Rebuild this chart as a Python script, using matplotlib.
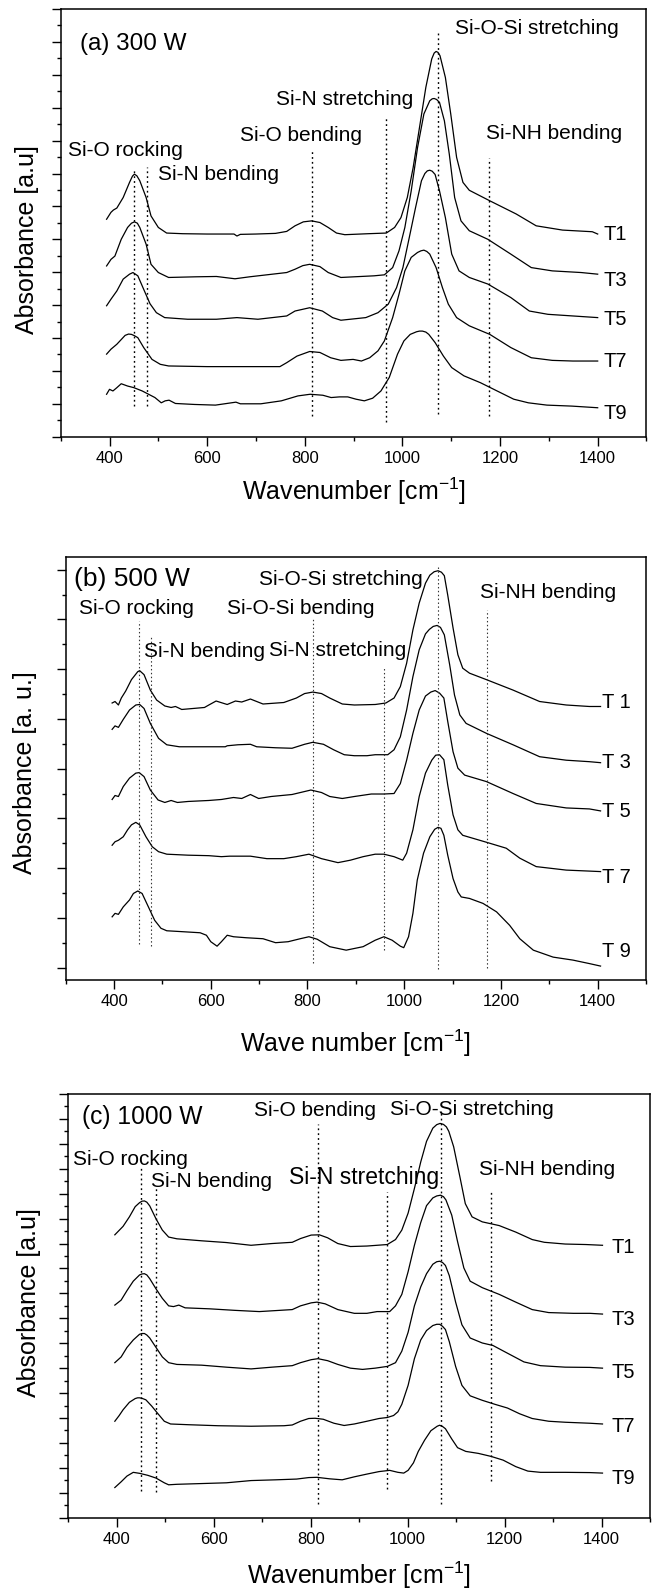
import matplotlib
matplotlib.use("Agg")
import matplotlib.pyplot as plt
from matplotlib.ticker import MultipleLocator

plt.rcParams['font.family'] = ['Liberation Sans', 'DejaVu Sans']
plt.rcParams['mathtext.fontset'] = 'custom'
plt.rcParams['mathtext.rm'] = 'Liberation Sans'
plt.rcParams['mathtext.it'] = 'Liberation Sans:italic'
plt.rcParams['mathtext.bf'] = 'Liberation Sans:bold'

# ---------------- Panel (a) 300 W ----------------
a_T1_x = [394, 403, 408, 415, 428, 441, 447, 451, 456, 462, 475, 485, 500, 517, 550, 600, 655, 661, 668, 700, 740, 763, 780, 797, 814, 831, 848, 865, 882, 930, 967, 984, 997, 1010, 1022, 1035, 1048, 1060, 1065, 1069, 1073, 1077, 1088, 1099, 1111, 1124, 1137, 1179, 1233, 1274, 1328, 1389, 1400]
a_T1_y = [6.61, 6.82, 6.89, 6.95, 7.27, 7.73, 7.92, 7.98, 7.93, 7.78, 7.27, 6.71, 6.36, 6.19, 6.17, 6.16, 6.16, 6.10, 6.15, 6.16, 6.18, 6.24, 6.41, 6.53, 6.56, 6.51, 6.36, 6.19, 6.14, 6.17, 6.19, 6.36, 6.66, 7.27, 8.18, 9.40, 10.62, 11.48, 11.66, 11.71, 11.68, 11.58, 10.92, 9.81, 8.49, 7.73, 7.49, 7.17, 6.77, 6.41, 6.28, 6.23, 6.16]

a_T3_x = [394, 403, 411, 424, 437, 445, 451, 457, 462, 475, 485, 500, 521, 577, 619, 657, 687, 763, 780, 796, 810, 831, 848, 874, 942, 963, 980, 993, 1005, 1018, 1031, 1044, 1056, 1061, 1065, 1070, 1076, 1086, 1096, 1107, 1120, 1137, 1175, 1222, 1264, 1307, 1366, 1400]
a_T3_y = [5.19, 5.39, 5.49, 6.00, 6.36, 6.49, 6.53, 6.49, 6.36, 5.85, 5.24, 4.99, 4.84, 4.86, 4.87, 4.80, 4.86, 4.99, 5.09, 5.20, 5.24, 5.17, 4.99, 4.84, 4.89, 4.92, 5.14, 5.65, 6.36, 7.47, 8.79, 9.81, 10.21, 10.27, 10.28, 10.25, 10.16, 9.60, 8.59, 7.27, 6.56, 6.26, 6.00, 5.55, 5.14, 5.04, 4.99, 4.94]

a_T5_x = [394, 403, 415, 428, 441, 448, 458, 470, 483, 496, 513, 560, 619, 661, 704, 763, 780, 810, 836, 857, 874, 925, 950, 971, 988, 1001, 1014, 1027, 1039, 1046, 1051, 1056, 1061, 1067, 1076, 1088, 1101, 1116, 1137, 1175, 1222, 1260, 1298, 1349, 1400]
a_T5_y = [3.98, 4.18, 4.43, 4.79, 4.94, 4.99, 4.89, 4.48, 4.04, 3.77, 3.62, 3.57, 3.57, 3.62, 3.57, 3.67, 3.82, 3.92, 3.82, 3.62, 3.54, 3.62, 3.77, 4.03, 4.53, 5.14, 6.05, 6.97, 7.78, 8.00, 8.08, 8.10, 8.07, 7.97, 7.47, 6.66, 5.55, 5.04, 4.84, 4.64, 4.23, 3.82, 3.72, 3.67, 3.62]

a_T7_x = [394, 403, 415, 432, 439, 445, 451, 458, 470, 487, 504, 521, 600, 680, 749, 763, 784, 810, 831, 853, 874, 899, 916, 933, 950, 963, 980, 993, 1005, 1018, 1031, 1038, 1044, 1050, 1056, 1069, 1082, 1094, 1111, 1137, 1179, 1222, 1264, 1307, 1349, 1400]
a_T7_y = [2.51, 2.66, 2.81, 3.08, 3.12, 3.11, 3.07, 3.01, 2.71, 2.35, 2.20, 2.15, 2.13, 2.13, 2.13, 2.25, 2.45, 2.59, 2.56, 2.40, 2.32, 2.35, 2.30, 2.40, 2.61, 2.91, 3.62, 4.33, 5.04, 5.45, 5.60, 5.65, 5.67, 5.63, 5.55, 5.14, 4.53, 4.03, 3.62, 3.37, 3.11, 2.71, 2.40, 2.32, 2.30, 2.30]

a_T9_x = [394, 400, 407, 415, 424, 437, 450, 467, 480, 493, 506, 514, 522, 535, 574, 617, 659, 668, 710, 752, 786, 811, 837, 854, 871, 888, 905, 922, 939, 956, 973, 990, 1003, 1016, 1029, 1035, 1041, 1048, 1054, 1067, 1084, 1101, 1126, 1160, 1194, 1228, 1258, 1296, 1347, 1400]
a_T9_y = [1.29, 1.44, 1.39, 1.49, 1.61, 1.54, 1.49, 1.39, 1.29, 1.19, 1.03, 1.09, 1.11, 1.01, 0.98, 0.96, 1.05, 1.00, 1.00, 1.09, 1.24, 1.29, 1.26, 1.19, 1.21, 1.21, 1.14, 1.09, 1.17, 1.39, 1.80, 2.51, 2.91, 3.11, 3.19, 3.21, 3.21, 3.18, 3.11, 2.86, 2.45, 2.10, 1.85, 1.64, 1.39, 1.14, 1.03, 0.96, 0.93, 0.88]

a_vline_x = [451, 476, 815, 966, 1072, 1177]
a_vline_lo = [0.93, 0.93, 0.63, 0.46, 0.68, 0.63]
a_vline_hi = [8.14, 8.20, 8.69, 9.69, 12.27, 8.48]
a_band_text = ["Si-O rocking", "Si-N bending", "Si-O bending", "Si-N stretching", "Si-O-Si stretching", "Si-NH bending"]
a_band_x = [315, 500, 668, 742, 1107, 1172]
a_band_y = [8.69, 7.96, 9.17, 10.26, 12.41, 9.23]
a_curve_labels = ["T1", "T3", "T5", "T7", "T9"]
a_curve_label_y = [6.16, 4.76, 3.55, 2.28, 0.72]

# ---------------- Panel (b) 500 W ----------------
b_T1_x = [396, 402, 409, 415, 424, 436, 449, 453, 462, 475, 488, 505, 518, 527, 540, 587, 596, 611, 634, 651, 664, 682, 708, 751, 777, 794, 811, 829, 846, 872, 897, 940, 962, 979, 992, 1005, 1018, 1031, 1044, 1053, 1062, 1070, 1077, 1083, 1090, 1101, 1111, 1121, 1135, 1170, 1225, 1280, 1335, 1383, 1406]
b_T1_y = [5.32, 5.35, 5.28, 5.42, 5.56, 5.79, 5.95, 5.97, 5.89, 5.58, 5.38, 5.26, 5.23, 5.25, 5.19, 5.23, 5.28, 5.36, 5.29, 5.36, 5.34, 5.40, 5.30, 5.33, 5.42, 5.51, 5.54, 5.51, 5.42, 5.30, 5.28, 5.29, 5.32, 5.42, 5.65, 6.12, 6.79, 7.33, 7.73, 7.89, 7.96, 7.98, 7.95, 7.88, 7.49, 6.83, 6.29, 6.02, 5.92, 5.79, 5.58, 5.35, 5.28, 5.25, 5.25]

b_T3_x = [396, 402, 409, 419, 432, 445, 453, 462, 475, 492, 509, 535, 595, 630, 634, 656, 682, 695, 734, 768, 794, 811, 833, 854, 876, 897, 923, 940, 966, 979, 992, 1005, 1018, 1031, 1044, 1052, 1060, 1068, 1075, 1083, 1094, 1104, 1115, 1128, 1170, 1225, 1280, 1335, 1383, 1406]
b_T3_y = [4.79, 4.86, 4.83, 4.99, 5.18, 5.28, 5.29, 5.21, 4.91, 4.61, 4.48, 4.44, 4.44, 4.44, 4.46, 4.48, 4.49, 4.44, 4.42, 4.41, 4.49, 4.53, 4.49, 4.38, 4.28, 4.26, 4.26, 4.28, 4.28, 4.38, 4.64, 5.18, 5.85, 6.39, 6.71, 6.80, 6.86, 6.88, 6.84, 6.69, 6.09, 5.48, 5.08, 4.91, 4.71, 4.48, 4.24, 4.17, 4.14, 4.12]

b_T5_x = [396, 402, 409, 419, 432, 445, 452, 462, 475, 491, 505, 518, 531, 553, 596, 622, 647, 664, 682, 699, 725, 768, 794, 807, 829, 846, 872, 897, 932, 958, 979, 992, 1005, 1018, 1031, 1044, 1055, 1064, 1073, 1082, 1090, 1101, 1111, 1125, 1170, 1225, 1273, 1335, 1383, 1406]
b_T5_y = [3.38, 3.46, 3.44, 3.64, 3.81, 3.91, 3.92, 3.84, 3.57, 3.37, 3.32, 3.36, 3.32, 3.34, 3.36, 3.38, 3.42, 3.40, 3.48, 3.40, 3.44, 3.48, 3.54, 3.57, 3.52, 3.44, 3.40, 3.44, 3.49, 3.49, 3.50, 3.70, 4.17, 4.71, 5.18, 5.46, 5.54, 5.57, 5.52, 5.42, 4.95, 4.34, 4.01, 3.87, 3.74, 3.50, 3.30, 3.21, 3.19, 3.15]

b_T7_x = [396, 402, 409, 419, 428, 436, 445, 453, 466, 479, 492, 509, 553, 596, 622, 639, 682, 716, 751, 777, 803, 829, 863, 889, 915, 940, 958, 979, 997, 1005, 1018, 1031, 1044, 1057, 1065, 1073, 1082, 1090, 1101, 1111, 1121, 1170, 1211, 1239, 1273, 1335, 1383, 1406]
b_T7_y = [2.46, 2.53, 2.56, 2.63, 2.77, 2.87, 2.92, 2.87, 2.63, 2.43, 2.33, 2.28, 2.26, 2.25, 2.23, 2.24, 2.24, 2.19, 2.19, 2.23, 2.28, 2.19, 2.11, 2.16, 2.23, 2.28, 2.28, 2.23, 2.16, 2.30, 2.77, 3.44, 3.91, 4.17, 4.27, 4.28, 4.18, 3.67, 3.07, 2.77, 2.66, 2.52, 2.40, 2.20, 2.03, 1.96, 1.94, 1.93]

b_T9_x = [396, 402, 409, 419, 432, 440, 449, 458, 471, 484, 497, 509, 544, 578, 591, 600, 613, 622, 634, 647, 673, 708, 734, 760, 785, 803, 820, 846, 880, 915, 940, 958, 975, 992, 999, 1009, 1018, 1027, 1040, 1053, 1063, 1070, 1076, 1082, 1090, 1101, 1111, 1118, 1135, 1163, 1191, 1218, 1239, 1267, 1308, 1349, 1383, 1406]
b_T9_y = [1.02, 1.09, 1.07, 1.22, 1.36, 1.49, 1.54, 1.49, 1.22, 0.95, 0.79, 0.74, 0.72, 0.70, 0.65, 0.52, 0.43, 0.52, 0.65, 0.62, 0.60, 0.58, 0.50, 0.52, 0.58, 0.62, 0.57, 0.42, 0.35, 0.42, 0.55, 0.62, 0.55, 0.43, 0.40, 0.62, 1.09, 1.76, 2.30, 2.63, 2.78, 2.82, 2.80, 2.66, 2.26, 1.79, 1.52, 1.42, 1.39, 1.29, 1.12, 0.85, 0.58, 0.35, 0.21, 0.15, 0.08, 0.03]

b_vline_x = [451, 477, 811, 958, 1070, 1172]
b_vline_lo = [0.48, 0.43, 0.09, 0.35, -0.02, 0.00]
b_vline_hi = [6.96, 6.66, 7.03, 6.02, 8.05, 7.20]
b_band_text = ["Si-O rocking", "Si-O-Si bending", "Si-O-Si stretching", "Si-NH bending", "Si-N bending", "Si-N stretching"]
b_band_x = [327, 634, 699, 1156, 462, 721]
b_band_y = [7.23, 7.23, 7.81, 7.54, 6.36, 6.38]
b_curve_labels = ["T 1", "T 3", "T 5", "T 7", "T 9"]
b_curve_label_y = [5.33, 4.12, 3.13, 1.81, 0.32]

# ---------------- Panel (c) 1000 W ----------------
c_T1_x = [396, 405, 413, 426, 438, 447, 452, 457, 462, 468, 481, 494, 507, 524, 575, 626, 677, 720, 762, 779, 801, 818, 835, 856, 882, 916, 958, 975, 988, 1001, 1014, 1027, 1039, 1052, 1060, 1067, 1074, 1080, 1085, 1095, 1108, 1119, 1133, 1154, 1189, 1223, 1257, 1282, 1325, 1368, 1402]
c_T1_y = [11.35, 11.53, 11.69, 12.07, 12.48, 12.64, 12.70, 12.71, 12.66, 12.51, 11.99, 11.54, 11.26, 11.19, 11.11, 11.04, 10.93, 11.00, 11.05, 11.20, 11.34, 11.35, 11.23, 11.00, 10.88, 10.90, 10.96, 11.16, 11.54, 12.22, 13.21, 14.27, 15.10, 15.63, 15.77, 15.82, 15.78, 15.68, 15.50, 14.88, 13.66, 12.60, 12.07, 11.87, 11.72, 11.46, 11.16, 11.05, 10.98, 10.96, 10.93]

c_T3_x = [396, 409, 421, 434, 447, 452, 457, 462, 468, 481, 494, 507, 517, 528, 541, 592, 643, 694, 762, 779, 801, 813, 830, 856, 890, 916, 937, 963, 975, 988, 1001, 1014, 1027, 1039, 1052, 1060, 1068, 1074, 1079, 1091, 1103, 1116, 1129, 1154, 1189, 1223, 1257, 1291, 1342, 1376, 1402]
c_T3_y = [8.53, 8.73, 9.11, 9.49, 9.74, 9.78, 9.79, 9.74, 9.59, 9.18, 8.80, 8.50, 8.47, 8.53, 8.42, 8.38, 8.32, 8.27, 8.35, 8.50, 8.62, 8.65, 8.58, 8.35, 8.20, 8.20, 8.27, 8.27, 8.50, 8.96, 9.87, 10.93, 11.84, 12.52, 12.83, 12.91, 12.94, 12.88, 12.75, 12.14, 11.08, 10.02, 9.49, 9.23, 8.96, 8.65, 8.35, 8.23, 8.20, 8.20, 8.17]

c_T5_x = [396, 409, 421, 434, 447, 452, 457, 462, 468, 481, 494, 507, 524, 575, 626, 677, 720, 762, 779, 801, 815, 835, 856, 882, 907, 933, 958, 975, 988, 1001, 1014, 1027, 1039, 1052, 1060, 1066, 1072, 1078, 1086, 1099, 1112, 1129, 1154, 1176, 1206, 1240, 1274, 1325, 1376, 1402]
c_T5_y = [6.22, 6.45, 6.83, 7.13, 7.36, 7.39, 7.39, 7.33, 7.21, 6.83, 6.45, 6.22, 6.15, 6.12, 6.04, 5.97, 6.04, 6.10, 6.22, 6.34, 6.38, 6.30, 6.15, 6.00, 5.95, 6.00, 6.07, 6.22, 6.68, 7.44, 8.50, 9.26, 9.79, 10.17, 10.27, 10.29, 10.24, 10.12, 9.71, 8.65, 7.74, 7.21, 7.01, 6.91, 6.60, 6.25, 6.10, 6.04, 6.03, 6.00]

c_T7_x = [396, 405, 413, 426, 438, 443, 447, 452, 460, 472, 485, 498, 511, 549, 609, 677, 745, 762, 779, 796, 809, 826, 848, 869, 890, 916, 941, 958, 971, 980, 988, 1001, 1014, 1027, 1039, 1052, 1060, 1066, 1072, 1078, 1086, 1099, 1112, 1129, 1154, 1180, 1206, 1231, 1257, 1291, 1325, 1376, 1402]
c_T7_y = [3.87, 4.10, 4.33, 4.63, 4.78, 4.81, 4.81, 4.79, 4.73, 4.48, 4.17, 3.87, 3.76, 3.73, 3.69, 3.67, 3.69, 3.72, 3.87, 3.98, 3.99, 3.95, 3.79, 3.70, 3.76, 3.87, 3.98, 4.02, 4.10, 4.25, 4.55, 5.31, 6.38, 7.13, 7.51, 7.71, 7.76, 7.76, 7.68, 7.55, 7.06, 6.07, 5.31, 4.89, 4.71, 4.55, 4.40, 4.17, 3.98, 3.87, 3.83, 3.79, 3.76]

c_T9_x = [396, 409, 421, 434, 447, 464, 481, 498, 507, 524, 575, 626, 677, 728, 771, 796, 813, 839, 865, 890, 916, 941, 963, 980, 992, 1001, 1012, 1022, 1035, 1048, 1061, 1066, 1072, 1078, 1091, 1103, 1120, 1146, 1172, 1197, 1223, 1248, 1274, 1325, 1376, 1402]
c_T9_y = [1.21, 1.44, 1.67, 1.82, 1.78, 1.70, 1.59, 1.40, 1.32, 1.34, 1.37, 1.40, 1.49, 1.52, 1.55, 1.61, 1.62, 1.56, 1.52, 1.64, 1.75, 1.85, 1.90, 1.82, 1.79, 1.90, 2.20, 2.66, 3.11, 3.49, 3.67, 3.71, 3.66, 3.57, 3.16, 2.81, 2.66, 2.58, 2.46, 2.31, 2.05, 1.87, 1.82, 1.82, 1.81, 1.79]

c_vline_x = [449, 481, 815, 958, 1069, 1173]
c_vline_lo = [1.06, 1.03, 0.53, 1.14, 0.53, 1.49]
c_vline_hi = [14.04, 13.25, 15.79, 13.05, 16.24, 13.05]
c_band_text = ["Si-O rocking", "Si-N bending", "Si-O bending", "Si-O-Si stretching", "Si-N stretching", "Si-NH bending"]
c_band_x = [310, 471, 684, 963, 755, 1148]
c_band_y = [14.39, 13.48, 16.32, 16.36, 13.66, 13.96]
c_band_size = [15, 15, 15, 15, 16.5, 15]
c_curve_labels = ["T1", "T3", "T5", "T7", "T9"]
c_curve_label_y = [10.85, 7.97, 5.84, 3.64, 1.58]

# ---------------- drawing ----------------
W, H = 652, 1592
fig = plt.figure(figsize=(W / 100, H / 100), dpi=100)


def make_axes(l, r, t, b):
    return fig.add_axes([l / W, 1 - b / H, (r - l) / W, (b - t) / H])


panels = [
    dict(ax=make_axes(60.7, 646.5, 9.0, 436.7), ylim=(0, 13),
         curves=[(a_T1_x, a_T1_y), (a_T3_x, a_T3_y), (a_T5_x, a_T5_y), (a_T7_x, a_T7_y), (a_T9_x, a_T9_y)],
         vx=a_vline_x, vlo=a_vline_lo, vhi=a_vline_hi, vcol='k', vlw=1.0,
         bt=a_band_text, bx=a_band_x, by=a_band_y, bs=[15] * 6,
         title="(a) 300 W", tx=340, ty=11.95, ts=17.5,
         cl=a_curve_labels, cly=a_curve_label_y, clx=1412,
         xlabel="Wavenumber [cm$^{-1}$]", xl_y=-0.128,
         ylabel="Absorbance [a.u]", yl=(-0.0575, 0.46)),
    dict(ax=make_axes(65.7, 646.0, 557.3, 980.0), ylim=(-0.25, 8.25),
         curves=[(b_T1_x, b_T1_y), (b_T3_x, b_T3_y), (b_T5_x, b_T5_y), (b_T7_x, b_T7_y), (b_T9_x, b_T9_y)],
         vx=b_vline_x, vlo=b_vline_lo, vhi=b_vline_hi, vcol='#333333', vlw=0.8,
         bt=b_band_text, bx=b_band_x, by=b_band_y, bs=[15] * 6,
         title="(b) 500 W", tx=318, ty=7.81, ts=19,
         cl=b_curve_labels, cly=b_curve_label_y, clx=1410,
         xlabel="Wave number [cm$^{-1}$]", xl_y=-0.150,
         ylabel="Absorbance [a. u.]", yl=(-0.0696, 0.49)),
    dict(ax=make_axes(68.3, 650.0, 1094.0, 1517.7), ylim=(0, 17),
         curves=[(c_T1_x, c_T1_y), (c_T3_x, c_T3_y), (c_T5_x, c_T5_y), (c_T7_x, c_T7_y), (c_T9_x, c_T9_y)],
         vx=c_vline_x, vlo=c_vline_lo, vhi=c_vline_hi, vcol='k', vlw=1.0,
         bt=c_band_text, bx=c_band_x, by=c_band_y, bs=c_band_size,
         title="(c) 1000 W", tx=328, ty=16.06, ts=17.7,
         cl=c_curve_labels, cly=c_curve_label_y, clx=1420,
         xlabel="Wavenumber [cm$^{-1}$]", xl_y=-0.135,
         ylabel="Absorbance [a.u]", yl=(-0.0676, 0.507)),
]

for p in panels:
    ax = p['ax']
    for xs, ys in p['curves']:
        ax.plot(xs, ys, color='k', lw=0.9, solid_joinstyle='round', antialiased=True)
    ax.vlines(p['vx'], p['vlo'], p['vhi'], colors=p['vcol'], linewidths=p['vlw'],
              linestyles=(0, (1.3, 2.2)))
    for t, x, y, s in zip(p['bt'], p['bx'], p['by'], p['bs']):
        ax.text(x, y, t, fontsize=s, ha='left', va='center')
    ax.text(p['tx'], p['ty'], p['title'], fontsize=p['ts'], ha='left', va='center')
    for t, y in zip(p['cl'], p['cly']):
        ax.text(p['clx'], y, t, fontsize=14.5, ha='left', va='center')

    ax.set_xlim(300, 1500)
    ax.set_ylim(*p['ylim'])
    ax.xaxis.set_major_locator(MultipleLocator(200))
    ax.xaxis.set_minor_locator(MultipleLocator(100))
    ax.yaxis.set_major_locator(MultipleLocator(1))
    ax.yaxis.set_minor_locator(MultipleLocator(0.5))
    ax.set_xticks([400, 600, 800, 1000, 1200, 1400])
    ax.tick_params(which='both', direction='out', width=1.0, top=False, right=False)
    ax.tick_params(which='major', length=6.5, labelsize=12)
    ax.tick_params(which='minor', length=3.2)
    ax.tick_params(axis='y', labelleft=False)
    for sp in ax.spines.values():
        sp.set_linewidth(1.1)

    ax.set_xlabel(p['xlabel'], fontsize=18)
    ax.xaxis.set_label_coords(0.5, p['xl_y'])
    ax.xaxis.label.set_va('center')
    ax.set_ylabel(p['ylabel'], fontsize=18)
    ax.yaxis.set_label_coords(*p['yl'])
    ax.yaxis.label.set_va('center')

fig.savefig("out.png", dpi=100)
